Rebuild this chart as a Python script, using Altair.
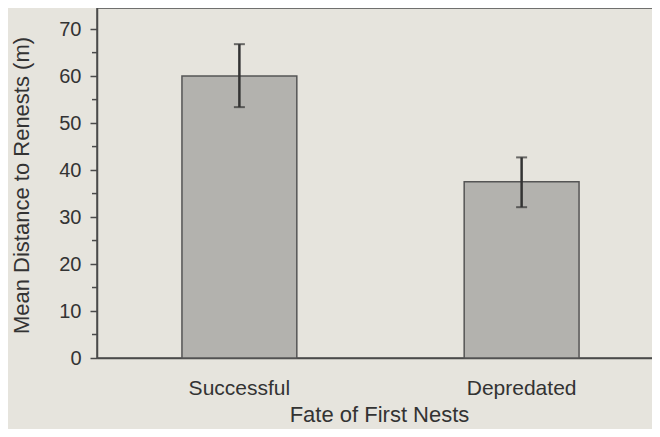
import altair as alt
import pandas as pd

categories = ["Successful", "Depredated"]
means = [60.0, 37.5]
upper = [66.8, 42.7]
lower = [53.4, 32.1]
major_ticks = [0, 10, 20, 30, 40, 50, 60, 70]
minor_ticks = [5, 15, 25, 35, 45, 55, 65]

df = pd.DataFrame({"fate": categories, "mean": means, "upper": upper, "lower": lower})
minor_df = pd.DataFrame({"v": minor_ticks})

FONT = "Liberation Sans"
INK = "#4a4a4a"
TXT = "#333333"
YT = "Mean Distance to Renests (m)"

yscale = alt.Scale(domain=[0, 74.5], nice=False)

base = alt.Chart(df).encode(
    x=alt.X(
        "fate:N",
        sort=categories,
        scale=alt.Scale(paddingInner=0.593, paddingOuter=0.301),
        axis=alt.Axis(
            title="Fate of First Nests",
            ticks=False,
            labelAngle=0,
            labelFont=FONT,
            labelFontSize=21,
            labelColor=TXT,
            labelPadding=19,
            domainColor=INK,
            domainWidth=1.5,
            titleFont=FONT,
            titleFontSize=22,
            titleFontWeight="normal",
            titleColor=TXT,
            titleX=282,
            titleY=63,
            titleBaseline="alphabetic",
        ),
    )
)

bars = base.mark_bar(fill="#b3b2ae", stroke="#555555", strokeWidth=1.5).encode(
    y=alt.Y(
        "mean:Q",
        scale=yscale,
        title=YT,
        axis=alt.Axis(
            values=major_ticks,
            grid=False,
            tickSize=7,
            tickColor=INK,
            tickWidth=1.5,
            domainColor=INK,
            domainWidth=1.5,
            labelFont=FONT,
            labelFontSize=20,
            labelColor=TXT,
            labelPadding=9,
            titleFont=FONT,
            titleFontSize=22,
            titleFontWeight="normal",
            titleColor=TXT,
            titleAngle=270,
            titleX=-69,
            titleY=177,
            titleAlign="center",
            titleBaseline="alphabetic",
        ),
    )
)

err = base.mark_rule(color="#333333", strokeWidth=2.5).encode(
    y=alt.Y("lower:Q", scale=yscale, title=YT), y2="upper:Q"
)
cap_top = base.mark_tick(color="#333333", size=11, thickness=2).encode(
    y=alt.Y("upper:Q", scale=yscale, title=YT)
)
cap_bot = base.mark_tick(color="#333333", size=11, thickness=2).encode(
    y=alt.Y("lower:Q", scale=yscale, title=YT)
)

minor = alt.Chart(minor_df).mark_rule(color=INK, strokeWidth=1.5).encode(
    y=alt.Y("v:Q", scale=yscale, title=YT),
    x=alt.value(-5),
    x2=alt.value(0),
)

chart = (
    alt.layer(bars, err, cap_top, cap_bot, minor)
    .properties(
        width=567,
        height=350,
        autosize=alt.AutoSizeParams(type="none"),
        padding={"left": 89, "top": 0, "right": -12, "bottom": 71},
        background="#e6e4dd",
    )
    .configure_view(stroke=INK, strokeWidth=1.5)
)

chart.save("out.html", embed_options={"renderer": "svg", "actions": False})
